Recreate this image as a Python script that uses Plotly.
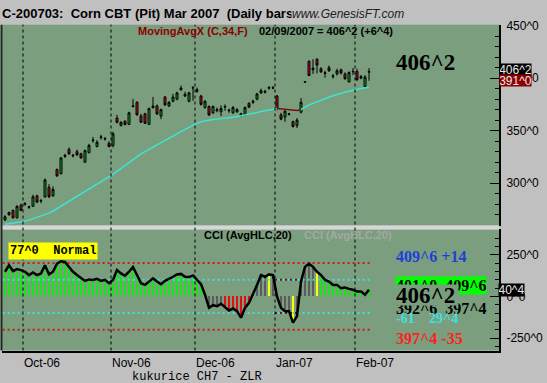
import plotly.graph_objects as go

W, H = 547, 383

# ---------------- data ----------------
bars = list(range(92))
opens = [265, 270, 274, 267, 279, 280, 277, 278, 288, 283,
         287, 296, 288, 313, 309, 325.5, 332, 326, 330, 328,
         320, 329, 340.5, 335, 343.5, 342, 338, 336, 362, 355,
         359, 356, 373, 377, 364, 366, 356, 372, 373.5, 364,
         382, 373.5, 378, 380, 389, 383, 378, 390.5, 389, 383,
         372, 373, 367, 369, 368, 372.5, 369, 367, 368, 366,
         365, 376, 377, 380, 386, 387.5, 390.5, 391, 383, 365,
         363, 365.5, 358.6, 355, 367.6, 396.2, 416, 408, 418, 409,
         404.5, 410, 401.5, 404, 408, 404, 396.4, 406, 406.3, 400,
         392, 405.75]
highs = [269.5, 273, 275, 279, 280.5, 282, 278.5, 289, 289, 285,
         304.5, 299, 297, 314, 325, 328, 334, 328, 332, 329,
         332, 337.5, 344, 341, 346, 344, 340, 349, 365, 359,
         360, 368, 380, 378, 366, 367, 372, 382, 375, 371,
         383, 378, 385, 387, 393, 387, 387, 392.5, 391, 384,
         379, 374, 374, 372, 374, 375, 371, 373.5, 371.5, 367,
         373, 377, 379.5, 386, 390, 389, 392.5, 392.5, 384, 367,
         369.5, 367, 359.5, 362, 381, 396.6, 417, 418, 419, 410.5,
         407, 412, 404, 409, 409, 405.5, 406.5, 409.5, 409, 403,
         403, 409.5]
lows = [264, 269, 266.5, 266.5, 273.5, 278.5, 275.5, 277.5, 281, 281,
        286, 286, 287, 306, 308.5, 324, 327, 324.5, 326, 323.5,
        319.5, 328.5, 338.5, 334, 341.5, 340.5, 334, 334, 357, 354,
        355, 355.5, 372, 364.5, 357.5, 356.5, 355.5, 371, 365, 361,
        373.5, 372.5, 377, 379, 388, 382, 377, 378.5, 386, 374,
        371, 364, 366, 367.5, 364, 369, 367, 366, 367, 363,
        364, 371.5, 375.5, 379, 385, 385.5, 389, 389.5, 369.5, 360,
        358.5, 364.5, 353, 352.5, 366.5, 396.2, 402, 404, 404.5, 405,
        400.5, 406, 399.5, 402.5, 403.5, 398.5, 396, 403, 397.5, 399,
        391, 397.5]
closes = [268, 272, 267, 278, 274, 280.5, 277.5, 287, 282, 283.5,
          303, 287, 294, 307, 324, 326.5, 328, 326.5, 327, 324,
          331, 336, 341, 339, 344, 342.5, 335, 347, 358, 358,
          356, 367, 373.5, 365, 358, 357, 371, 373.5, 366, 370,
          374.5, 377, 382, 386, 390.5, 384.5, 386, 391, 387.5, 375,
          378, 365, 373, 370, 371, 373, 369.5, 372, 370, 364.5,
          372, 372.5, 378, 385, 388, 386.5, 391, 390.5, 370.4, 361,
          368.6, 366, 354, 360, 377, 396.6, 402.5, 409.5, 412.5, 406,
          405, 407, 402, 407, 405, 399.5, 405.4, 406.5, 398.5, 401.5,
          401, 406.25]
ma34 = [261.0, 261.5, 262.0, 262.6, 263.1, 263.8, 264.8, 266.0, 267.2, 268.5,
        270.0, 271.5, 273.5, 275.8, 278.2, 280.6, 283.0, 285.2, 287.4, 289.8,
        292.0, 294.4, 296.8, 299.0, 301.3, 303.6, 306.0, 308.4, 311.2, 314.0,
        316.8, 319.6, 322.6, 325.6, 328.0, 330.0, 332.2, 334.4, 336.6, 338.6,
        340.6, 342.8, 345.0, 347.2, 349.2, 351.2, 353.2, 355.4, 357.0, 358.6,
        359.4, 360.0, 360.6, 361.0, 361.4, 361.8, 362.0, 362.8, 363.6, 364.2,
        365.0, 365.8, 366.6, 367.3, 368.2, 369.0, 369.8, 370.6, 371.0, 370.6,
        370.2, 369.8, 369.4, 369.2, 370.2, 372.5, 374.4, 376.0, 377.6, 379.0,
        380.4, 381.8, 383.2, 384.5, 385.6, 386.6, 387.6, 388.6, 389.4, 390.2,
        390.8, 391.0]
ma_below = list(range(68, 75))        # bars where the average is drawn dark red
cci = [148, 187, 152, 164, 158, 148, 128, 144, 128, 138,
       187, 132, 148, 197, 211, 207, 177, 148, 128, 108,
       93, 102, 99, 105, 93, 99, 79, 99, 158, 138,
       124, 148, 177, 128, 79, 69, 89, 108, 89, 73,
       93, 108, 118, 132, 135, 118, 116, 126, 99, 73,
       10, -69, -53, -59, -45, -65, -85, -73, -89, -128,
       -69, -39, 10, 69, 128, 118, 132, 128, 0, -69,
       -89, -89, -158, -118, 89, 177, 197, 177, 148, 128,
       99, 89, 69, 69, 49, 53, 45, 40, 30, 30,
       10, 40]
cci_state = (["up"] * 50 + ["flat"] * 5 + ["down"] * 7 + ["flat"] * 4 + ["turn"] +
             ["flat"] * 5 + ["turn"] + ["flat"] * 5 + ["turn"] + ["up"] * 13)
cci_levels = [200, 100, -100, -200]
month_first_bar = [5, 27, 48, 68, 88]
month_labels = ["Oct-06", "Nov-06", "Dec-06", "Jan-07", "Feb-07"]
price_ticks = [300, 350, 400, 450]
price_tick_text = ["300^0", "350^0", "400^0", "450^0"]
cci_ticks = [-250, 0, 250]
cci_tick_text = ["-250^0", "0^0", "250^0"]

# ---------------- styling ----------------
PANEL = "#7a9e7e"
PAPER = "#c0c0c0"
SANS = "Liberation Sans, Arial, sans-serif"
SERIF = "Liberation Serif, Times New Roman, serif"
MONO = "Liberation Mono, Courier New, monospace"
state_color = {"up": "#1fe01f", "flat": "#5c5c5c", "down": "#e01010", "turn": "#ffff00"}
level_color = {200: "#d01818", 100: "#40e0e0", -100: "#40e0e0", -200: "#d01818"}


def px(x):
    return x / W


def py(y):
    return 1 - y / H


fig = go.Figure()

# price panel
fig.add_trace(go.Scatter(x=bars, y=ma34, mode="lines", xaxis="x", yaxis="y",
                         line=dict(color="#3fe3d3", width=1.5), hoverinfo="skip"))
fig.add_trace(go.Scatter(x=ma_below, y=[ma34[i] for i in ma_below], mode="lines",
                         xaxis="x", yaxis="y", line=dict(color="#8b0000", width=1.5),
                         hoverinfo="skip"))
fig.add_trace(go.Candlestick(x=bars, open=opens, high=highs, low=lows, close=closes,
                             xaxis="x", yaxis="y", whiskerwidth=0,
                             increasing=dict(fillcolor="#22a022", line=dict(color="black", width=1)),
                             decreasing=dict(fillcolor="#c8102e", line=dict(color="black", width=1))))

# CCI panel
fig.add_trace(go.Bar(x=bars, y=cci, base=0, width=0.5, xaxis="x2", yaxis="y2",
                     marker=dict(color=[state_color[s] for s in cci_state], line=dict(width=0))))
for lv in cci_levels:
    fig.add_trace(go.Scatter(x=[bars[0] - 0.6, bars[-1] + 0.5], y=[lv, lv], mode="lines",
                             xaxis="x2", yaxis="y2",
                             line=dict(color=level_color[lv], width=2, dash="2px,3px"),
                             hoverinfo="skip"))
for lv in (100, -100):
    fig.add_trace(go.Scatter(x=[ma_below[0] - 0.5, ma_below[-2] + 0.5], y=[lv, lv], mode="lines",
                             xaxis="x2", yaxis="y2",
                             line=dict(color="#7a1010", width=2, dash="2px,3px"),
                             hoverinfo="skip"))
fig.add_trace(go.Scatter(x=bars, y=cci, mode="lines", xaxis="x2", yaxis="y2",
                         line=dict(color="black", width=2.5), hoverinfo="skip"))

shapes = []
# separator band between the panels
shapes.append(dict(type="rect", xref="paper", yref="paper", x0=px(0), x1=px(499),
                   y0=py(227), y1=py(223), fillcolor="#d6d6d6", line=dict(width=0), layer="above"))
# left border
shapes.append(dict(type="line", xref="paper", yref="paper", x0=px(1.5), x1=px(1.5),
                   y0=py(350), y1=py(19), line=dict(color="#1c2a1c", width=2), layer="above"))
# month separators
for b in month_first_bar:
    shapes.append(dict(type="line", xref="x", yref="paper", x0=b - 0.5, x1=b - 0.5,
                       y0=py(350), y1=py(19), line=dict(color="black", width=1, dash="dot"),
                       layer="above"))

ann = []


def text(x, y, t, size, color="black", family=SANS, xanchor="left", **kw):
    d = dict(xref="paper", yref="paper", x=px(x), y=py(y), text=t, showarrow=False,
             xanchor=xanchor, yanchor="middle", font=dict(size=size, color=color, family=family))
    d.update(kw)
    ann.append(d)


nb = "\u00a0"
text(0, 8, "<b>C-200703:" + nb * 2 + "Corn CBT (Pit) Mar 2007" + nb * 2 + "(Daily bars</b>", 13)
text(291, 8, "<i>www.GenesisFT.com</i>", 12, color="#202020", bgcolor=PAPER, borderpad=0)
text(136, 25, "<b>MovingAvgX (C,34,F)</b>", 11, color="#8b0000")
text(257, 25, "<b>02/09/2007 = 406^2 (+6^4)</b>", 11)
text(394, 57.5, "<b>406^2</b>", 23, family=SERIF)

# right-axis value tags
text(499, 64.5, "406^2", 12, color="#e8e8e8", bgcolor="black", borderpad=0, width=31, height=11)
text(499, 76, "391^0", 12, color="#e8e8e8", bgcolor="#8b0000", borderpad=0, width=31, height=11)
text(498, 289, "40^4", 12, color="#e8e8e8", bgcolor="black", borderpad=0, width=25, height=12)

# CCI panel texts
text(202, 233, "<b>CCI (AvgHLC,20)</b>", 11)
text(302, 233, "<b>CCI (AvgHLC,20)</b>", 11, color="#a4aaa4")
text(8, 249, "<b>77^0" + nb * 2 + "Normal</b>", 12, family=MONO, bgcolor="#ffff00", borderpad=1)
text(394, 254, "<b>409^6 +14</b>", 16, color="#1f3fd8", family=SERIF)
text(395, 283.5, "<b>401^0" + nb * 2 + "409^6</b>", 16, family=SERIF, bgcolor="#00ff00",
     borderpad=0, width=90, height=17, align="left")
text(394, 307, "<b>392^6" + nb * 2 + "397^4</b>", 16, family=SERIF)
text(395, 293.5, "<b>406^2</b>", 23, family=SERIF, bgcolor=PANEL, borderpad=0,
     width=62, height=20, align="left")
text(394, 317, "<b>-61</b>", 14, color="#40e0e0", family=SERIF)
text(427, 317, "<b>29^4</b>", 14, color="#40e0e0", family=SERIF)
text(394, 337.5, "<b>397^4 -35</b>", 16, color="#ff2020", family=SERIF)

# footer
text(197, 377, "kukurice CH7 - ZLR", 12, family=MONO, xanchor="center")

xr = [-0.75, 123.5]
fig.update_layout(
    width=W, height=H, margin=dict(l=0, r=0, t=0, b=0),
    paper_bgcolor=PAPER, plot_bgcolor=PANEL, showlegend=False,
    shapes=shapes, annotations=ann, bargap=0,
    xaxis=dict(domain=[px(2), px(499)], range=xr, anchor="y", showticklabels=False,
               showgrid=False, zeroline=False, ticks="", rangeslider=dict(visible=False)),
    yaxis=dict(domain=[py(223), py(19)], range=[259.7, 450.9], side="right", anchor="x",
               tickmode="array", tickvals=price_ticks, ticktext=price_tick_text,
               ticks="inside", ticklen=9, tickcolor="black", tickwidth=1,
               minor=dict(tick0=0, dtick=10, ticks="inside", ticklen=4, tickcolor="black"),
               showline=True, linecolor="black", linewidth=2, showgrid=False, zeroline=False,
               tickfont=dict(size=12, color="black", family=SANS), ticklabelstandoff=3),
    xaxis2=dict(domain=[px(2), px(499)], range=xr, anchor="y2", matches="x",
                tickmode="array", tickvals=[b - 0.5 for b in month_first_bar], ticktext=month_labels,
                ticks="", showline=True, linecolor="black", linewidth=2, showgrid=False,
                zeroline=False, ticklabelposition="outside right",
                tickfont=dict(size=12, color="black", family=SANS)),
    yaxis2=dict(domain=[py(350), py(227)], range=[-325, 402], side="right", anchor="x2",
                tickmode="array", tickvals=cci_ticks, ticktext=cci_tick_text,
                ticks="inside", ticklen=9, tickcolor="black", tickwidth=1,
                minor=dict(tick0=0, dtick=50, ticks="inside", ticklen=4, tickcolor="black"),
                showline=True, linecolor="black", linewidth=2, showgrid=False, zeroline=False,
                tickfont=dict(size=12, color="black", family=SANS), ticklabelstandoff=3),
)

fig.write_html("out.html")
